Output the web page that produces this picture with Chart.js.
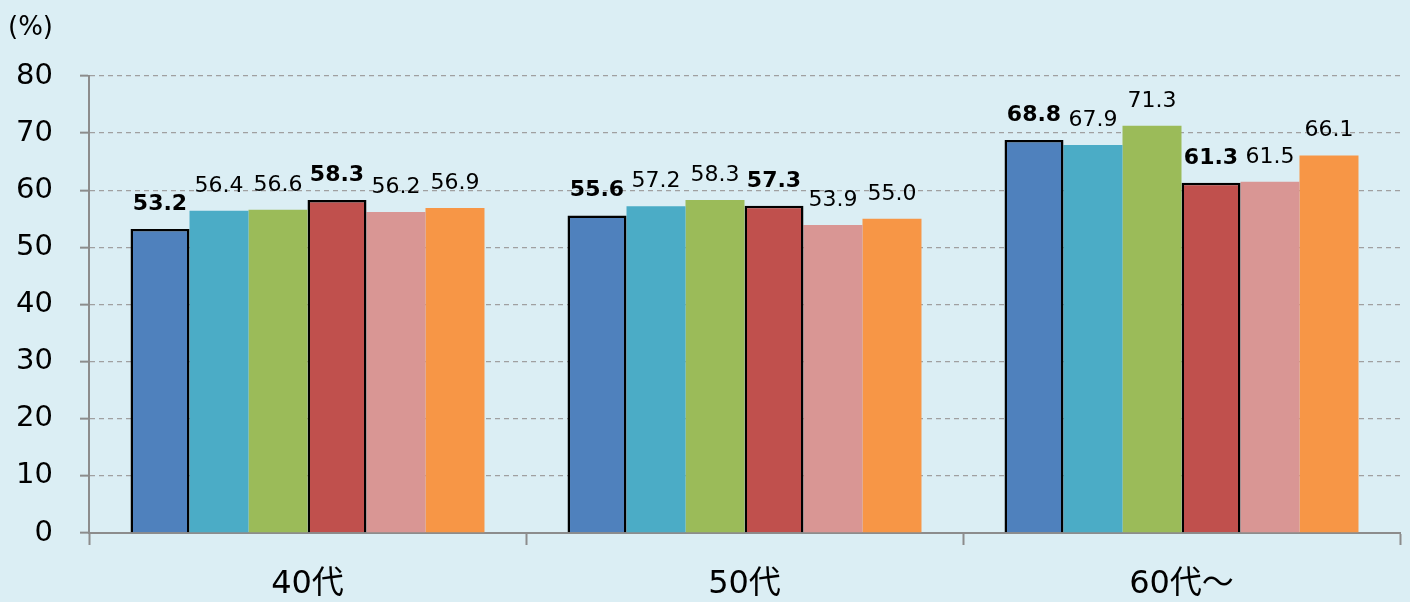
<!DOCTYPE html>
<html>
<head>
<meta charset="utf-8">
<script src="https://cdn.jsdelivr.net/npm/chart.js@4"></script>
<style>
  html, body { margin: 0; padding: 0; background: #dbeef4; }
  #wrap { width: 1410px; height: 602px; }
</style>
</head>
<body>
<div id="wrap"><canvas id="chart"></canvas></div>
<script>
// data
var categories = ["40代", "50代", "60代～"];
var series1 = [53.2, 55.6, 68.8];
var series2 = [56.4, 57.2, 67.9];
var series3 = [56.6, 58.3, 71.3];
var series4 = [58.3, 57.3, 61.3];
var series5 = [56.2, 53.9, 61.5];
var series6 = [56.9, 55.0, 66.1];
var yTicks = [0, 10, 20, 30, 40, 50, 60, 70, 80];

var fontFamily = "'DejaVu Sans', 'Noto Sans CJK JP', sans-serif";

function makeSet(data, color, bold) {
  return {
    data: data,
    backgroundColor: color,
    borderColor: bold ? "#000000" : color,
    borderWidth: bold ? 2.5 : 0,
    borderSkipped: "bottom",
    boldLabel: bold
  };
}

// value labels above every bar
var valueLabels = {
  id: "valueLabels",
  afterDatasetsDraw: function(chart) {
    var ctx = chart.ctx;
    ctx.save();
    ctx.fillStyle = "#000";
    ctx.textAlign = "center";
    ctx.textBaseline = "alphabetic";
    chart.data.datasets.forEach(function(ds, i) {
      var meta = chart.getDatasetMeta(i);
      ctx.font = (ds.boldLabel ? "bold " : "") + "22px " + fontFamily;
      meta.data.forEach(function(bar, j) {
        ctx.fillText(ds.data[j].toFixed(1), bar.x, bar.y - 19);
      });
    });
    // unit label
    ctx.font = "26px " + fontFamily;
    ctx.textAlign = "left";
    ctx.fillText("(%)", 8, 35);
    ctx.restore();
  }
};

var chart = new Chart(document.getElementById("chart"), {
  type: "bar",
  data: {
    labels: categories,
    datasets: [
      makeSet(series1, "#4f81bd", true),
      makeSet(series2, "#4bacc6", false),
      makeSet(series3, "#9bbb59", false),
      makeSet(series4, "#c0504d", true),
      makeSet(series5, "#d99694", false),
      makeSet(series6, "#f79646", false)
    ]
  },
  options: {
    responsive: true,
    maintainAspectRatio: false,
    animation: false,
    categoryPercentage: 0.81,
    barPercentage: 1.0,
    layout: { padding: { top: 76, right: 10, left: 0, bottom: 0 } },
    plugins: {
      legend: { display: false },
      tooltip: { enabled: false }
    },
    scales: {
      x: {
        afterFit: function(scale) { scale.height = 69; },
        grid: {
          display: true,
          drawOnChartArea: false,
          drawTicks: true,
          tickLength: 12,
          tickColor: "#8c8c8c",
          tickWidth: 2,
          offset: true
        },
        border: { display: true, color: "#8c8c8c", width: 2 },
        ticks: {
          color: "#000",
          padding: 20,
          font: { family: fontFamily, size: 32 }
        }
      },
      y: {
        min: 0,
        max: 80,
        afterBuildTicks: function(scale) {
          scale.ticks = yTicks.map(function(v) { return { value: v }; });
        },
        afterFit: function(scale) { scale.width = 89; },
        grid: {
          color: "#a0a0a0",
          lineWidth: 1.3,
          drawTicks: true,
          tickLength: 9,
          tickColor: "#8c8c8c",
          tickWidth: 2
        },
        border: { display: true, color: "#8c8c8c", width: 2, dash: [5, 4] },
        ticks: {
          color: "#000",
          padding: 27,
          font: { family: fontFamily, size: 29 }
        }
      }
    }
  },
  plugins: [valueLabels]
});
</script>
</body>
</html>
